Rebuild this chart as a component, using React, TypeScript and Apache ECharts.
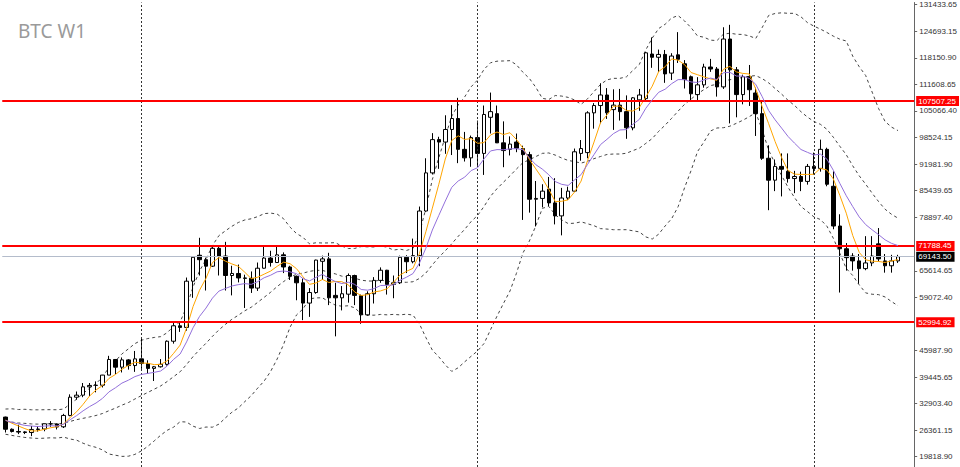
import React, { useEffect, useRef } from 'react';
import * as echarts from 'echarts';

const weeks = [
  '2023-08-13','2023-08-20','2023-08-27','2023-09-03','2023-09-10','2023-09-17','2023-09-24','2023-10-01','2023-10-08','2023-10-15',
  '2023-10-22','2023-10-29','2023-11-05','2023-11-12','2023-11-19','2023-11-26','2023-12-03','2023-12-10','2023-12-17','2023-12-24',
  '2023-12-31','2024-01-07','2024-01-14','2024-01-21','2024-01-28','2024-02-04','2024-02-11','2024-02-18','2024-02-25','2024-03-03',
  '2024-03-10','2024-03-17','2024-03-24','2024-03-31','2024-04-07','2024-04-14','2024-04-21','2024-04-28','2024-05-05','2024-05-12',
  '2024-05-19','2024-05-26','2024-06-02','2024-06-09','2024-06-16','2024-06-23','2024-06-30','2024-07-07','2024-07-14','2024-07-21',
  '2024-07-28','2024-08-04','2024-08-11','2024-08-18','2024-08-25','2024-09-01','2024-09-08','2024-09-15','2024-09-22','2024-09-29',
  '2024-10-06','2024-10-13','2024-10-20','2024-10-27','2024-11-03','2024-11-10','2024-11-17','2024-11-24','2024-12-01','2024-12-08',
  '2024-12-15','2024-12-22','2024-12-29','2025-01-05','2025-01-12','2025-01-19','2025-01-26','2025-02-02','2025-02-09','2025-02-16',
  '2025-02-23','2025-03-02','2025-03-09','2025-03-16','2025-03-23','2025-03-30','2025-04-06','2025-04-13','2025-04-20','2025-04-27',
  '2025-05-04','2025-05-11','2025-05-18','2025-05-25','2025-06-01','2025-06-08','2025-06-15','2025-06-22','2025-06-29','2025-07-06',
  '2025-07-13','2025-07-20','2025-07-27','2025-08-03','2025-08-10','2025-08-17','2025-08-24','2025-08-31','2025-09-07','2025-09-14',
  '2025-09-21','2025-09-28','2025-10-05','2025-10-12','2025-10-19','2025-10-26','2025-11-02','2025-11-09','2025-11-16','2025-11-23',
  '2025-11-30','2025-12-07','2025-12-14','2025-12-21','2025-12-28','2026-01-04','2026-01-11','2026-01-18','2026-01-25','2026-02-01',
  '2026-02-08','2026-02-15','2026-02-22','2026-03-01','2026-03-08','2026-03-15','2026-03-22','2026-03-29','2026-04-05','2026-04-12',
  '2026-04-19'
];

const openP = [
  29600,26600,26050,25950,25800,26550,26650,27950,27900,27200,
  30000,34500,35000,37050,37400,37450,39950,43800,41900,43700,
  42300,43950,42800,41600,42000,42600,48300,52100,51700,63100,
  69500,68400,66800,71200,69300,64500,65000,63900,63800,61400,
  66300,68800,67700,69600,66600,64300,62700,57700,60300,68000,
  68600,59600,59000,59900,64500,59500,54800,60000,63300,65800,
  62300,62700,69000,67900,69400,80400,89800,98000,97400,100500,
  103200,95600,93500,98500,94600,103500,104400,97200,95600,97400,
  95800,94300,83300,83500,85800,82400,79200,83600,85300,94600,
  94800,104600,106400,109000,105400,106500,104900,100900,107800,108100,
  119100,118300,119000,114400,118900,116700,113500,109100,111500,115900,
  115400,111000,122800,115200,109100,113500,109500,104400,93400,88000,
  91400,90200,88400,88900,87700,91400,90900,95600,86500,76700,
  71100,69300,68100,66200,67600,72300,68100,66900,68100
];
const highP = [
  29700,26800,27700,26100,27400,27400,28000,28600,28000,30400,
  35200,35900,38000,38000,38400,40000,44700,43900,44300,43900,
  45900,49000,43600,42200,43900,48500,52800,52900,64000,69200,
  73800,68900,71700,71800,72800,66900,67200,64700,65500,67700,
  71900,70600,71900,70200,66900,64500,63800,61400,68400,69400,
  70100,62700,61900,65000,64700,59800,60600,64100,66500,65900,
  64500,69400,69500,73600,81500,93400,99600,98700,104000,106500,
  108300,99900,99000,102700,106400,109600,106400,102500,98800,99500,
  96500,95000,87800,87000,88800,88500,86100,86400,95800,97900,
  105000,107000,111900,110700,110400,110500,108900,108500,110500,119600,
  123200,120200,120100,119300,124500,117600,113800,113400,116700,117900,
  115900,125700,126300,115900,114000,116400,110800,107500,96600,93100,
  94600,94600,90300,90100,92000,94800,98000,96000,90200,79600,
  72500,70000,69800,74200,74200,76200,69800,69600,69600
];
const lowP = [
  25800,25800,25400,25400,24900,26000,26100,27200,26550,26900,
  29800,33900,34500,34800,35700,36900,39950,40200,40600,41300,
  40750,41500,40300,38500,41800,42300,47700,50600,50900,59000,
  64500,60800,66600,64500,60800,59600,62800,56500,60200,60700,
  66200,66700,67600,65100,63400,58400,53500,54300,60000,63400,
  57200,49500,55900,57800,57200,52600,54600,57600,62700,59800,
  58900,62400,65100,67500,66800,80200,89400,90800,94500,94200,
  92200,92600,91300,91200,89300,99500,97800,91200,94100,94900,
  78200,80000,76600,81300,81600,77100,74400,83100,85100,92800,
  93400,100700,102000,103100,100400,102700,98200,100300,105100,107500,
  115700,114700,112000,112700,116900,110600,107300,107300,110800,114700,
  108600,110500,102000,103500,106700,106300,98900,93000,80600,85300,
  84000,87400,84800,85300,86900,89300,90100,86500,75900,60300,
  65700,65700,62500,65800,66800,68000,65200,65200,67600
];
const closeP = [
  26600,26050,25900,25800,26550,26650,27950,27900,27150,30000,
  34500,35000,37050,37400,37450,39950,43800,41900,43700,42300,
  43950,42800,41600,42000,42600,48300,52100,51700,63100,69000,
  68400,66800,71200,69300,64500,65000,63900,63800,61400,66300,
  68800,67700,69600,66600,64300,62700,57700,60300,68300,68600,
  59000,59000,60000,64500,59600,54800,60000,63300,65800,62300,
  62700,69000,67900,69400,80400,89800,98000,97400,100500,103200,
  95600,93500,98500,94600,104200,104900,97200,95300,96900,95900,
  94300,83300,83500,85300,82400,79200,83600,85300,95000,95800,
  104600,106400,109000,104600,106500,104900,100900,108300,109000,119400,
  118300,119000,114200,118600,117800,112800,109300,111500,115900,115400,
  111000,122800,115200,109100,113500,110300,104400,93400,88000,91400,
  90700,88400,88900,87700,91400,90900,95600,87000,76700,71100,
  68900,68100,66200,67600,69300,68600,66900,68100,69143.5
];
// weekly closes before the first visible bar (indicator warm-up only)
const warmupCloses = [
  28150,28350,30300,27600,29250,27700,27100,26750,28100,25850,
  26350,26350,30500,30600,30170,30250,29900,29300,29050,29400
];

const yTickValues = [
  131433.65,124693.15,118150.90,111608.65,105066.40,98524.15,91981.90,85439.65,78897.40,
  65614.65,59072.40,45987.90,39445.65,32903.40,26361.15,19818.90
];
const levelLines = [107507.25, 71788.45, 52994.92];
const lastPrice = 69143.5;
const separatorWeeks = ['2024-01-07', '2025-01-05', '2026-01-04'];
const title = 'BTC W1';

const FAST_MA = 5;
const SLOW_EMA = 11;
const BB_PERIOD = 20;
const BB_DEV = 2;

function buildIndicators() {
  const all = warmupCloses.concat(closeP);
  const w = warmupCloses.length;
  const sma: number[] = [];
  const upper: number[] = [];
  const mid: number[] = [];
  const lower: number[] = [];
  for (let i = 0; i < closeP.length; i++) {
    const k = w + i;
    let s = 0;
    for (let j = k - FAST_MA + 1; j <= k; j++) s += all[j];
    sma.push(s / FAST_MA);
    let m = 0;
    for (let j = k - BB_PERIOD + 1; j <= k; j++) m += all[j];
    m /= BB_PERIOD;
    let v = 0;
    for (let j = k - BB_PERIOD + 1; j <= k; j++) v += (all[j] - m) * (all[j] - m);
    const sd = Math.sqrt(v / BB_PERIOD);
    mid.push(m);
    upper.push(m + BB_DEV * sd);
    lower.push(m - BB_DEV * sd);
  }
  const a = 2 / (SLOW_EMA + 1);
  let e = 0;
  for (let j = 0; j < SLOW_EMA; j++) e += all[j];
  e /= SLOW_EMA;
  const emaAll: number[] = [];
  for (let j = 0; j < all.length; j++) {
    if (j >= SLOW_EMA) e = e + a * (all[j] - e);
    emaAll.push(e);
  }
  const ema = emaAll.slice(w);
  return { sma, ema, upper, mid, lower };
}

export default function App() {
  const ref = useRef<HTMLDivElement>(null);
  useEffect(() => {
    if (!ref.current) return;
    const chart = echarts.init(ref.current, null, { renderer: 'svg' });
    const ind = buildIndicators();
    const candles = openP.map((o, i) => [o, closeP[i], lowP[i], highP[i]]);
    const bbStyle = { color: '#444', width: 1, type: [3, 3] as any };
    const labelFont = 'Liberation Sans';
    const option: any = {
      animation: false,
      backgroundColor: '#ffffff',
      grid: { left: 2.26, right: 45, top: 0, bottom: 0, containLabel: false },
      xAxis: {
        type: 'category',
        data: weeks,
        boundaryGap: true,
        show: false,
      },
      yAxis: {
        type: 'value',
        position: 'right',
        min: 17292,
        max: 131800,
        splitLine: { show: false },
        axisLine: { show: true, lineStyle: { color: '#666', width: 1 } },
        axisTick: { show: true, length: 3, customValues: yTickValues, lineStyle: { color: '#666' } },
        axisLabel: {
          show: true,
          customValues: yTickValues,
          formatter: (v: number) => v.toFixed(2),
          fontSize: 8,
          fontFamily: labelFont,
          color: '#333',
          margin: 5,
        },
      },
      graphic: [
        {
          type: 'text',
          x: 18,
          y: 31,
          style: {
            text: title,
            fontSize: 19,
            fontFamily: 'Noto Sans',
            fill: '#9a9a9a',
            verticalAlign: 'middle',
          },
        },
      ],
      series: [
        {
          type: 'candlestick',
          data: candles,
          barWidth: 4,
          z: 3,
          itemStyle: {
            color: '#ffffff',
            color0: '#000000',
            borderColor: '#000000',
            borderColor0: '#000000',
            borderWidth: 1,
          },
          markLine: {
            silent: true,
            symbol: 'none',
            animation: false,
            lineStyle: { color: '#333', width: 1, type: [2, 2] },
            label: { show: false },
            data: separatorWeeks.map((d) => ({ xAxis: d })),
          },
        },
        { type: 'line', data: ind.upper, showSymbol: false, symbol: 'none', lineStyle: bbStyle, z: 2 },
        { type: 'line', data: ind.mid, showSymbol: false, symbol: 'none', lineStyle: bbStyle, z: 2 },
        { type: 'line', data: ind.lower, showSymbol: false, symbol: 'none', lineStyle: bbStyle, z: 2 },
        {
          type: 'line',
          data: ind.sma,
          showSymbol: false,
          symbol: 'none',
          lineStyle: { color: '#ffa500', width: 1 },
          z: 4,
        },
        {
          type: 'line',
          data: ind.ema,
          showSymbol: false,
          symbol: 'none',
          lineStyle: { color: '#9370db', width: 1 },
          z: 5,
          markLine: {
            silent: true,
            symbol: 'none',
            animation: false,
            data: [
              {
                yAxis: lastPrice,
                lineStyle: { color: '#b4bccb', width: 1, type: 'solid' },
                label: {
                  show: true,
                  position: 'end',
                  distance: 2,
                  formatter: lastPrice.toFixed(2),
                  color: '#ffffff',
                  backgroundColor: '#000000',
                  fontSize: 8,
                  fontFamily: labelFont,
                  padding: [1, 3, 1, 2],
                },
              },
              ...levelLines.map((v) => ({
                yAxis: v,
                lineStyle: { color: '#ff0000', width: 2, type: 'solid' },
                label: {
                  show: true,
                  position: 'end',
                  distance: 2,
                  formatter: v.toFixed(2),
                  color: '#ffffff',
                  backgroundColor: '#ff0000',
                  fontSize: 8,
                  fontFamily: labelFont,
                  padding: [1, 3, 1, 2],
                },
              })),
            ],
          },
        },
      ],
    };
    chart.setOption(option);
    return () => chart.dispose();
  }, []);
  return (
    <div
      ref={ref}
      style={{ position: 'absolute', left: 0, top: 0, width: 960, height: 467, background: '#fff' }}
    />
  );
}
